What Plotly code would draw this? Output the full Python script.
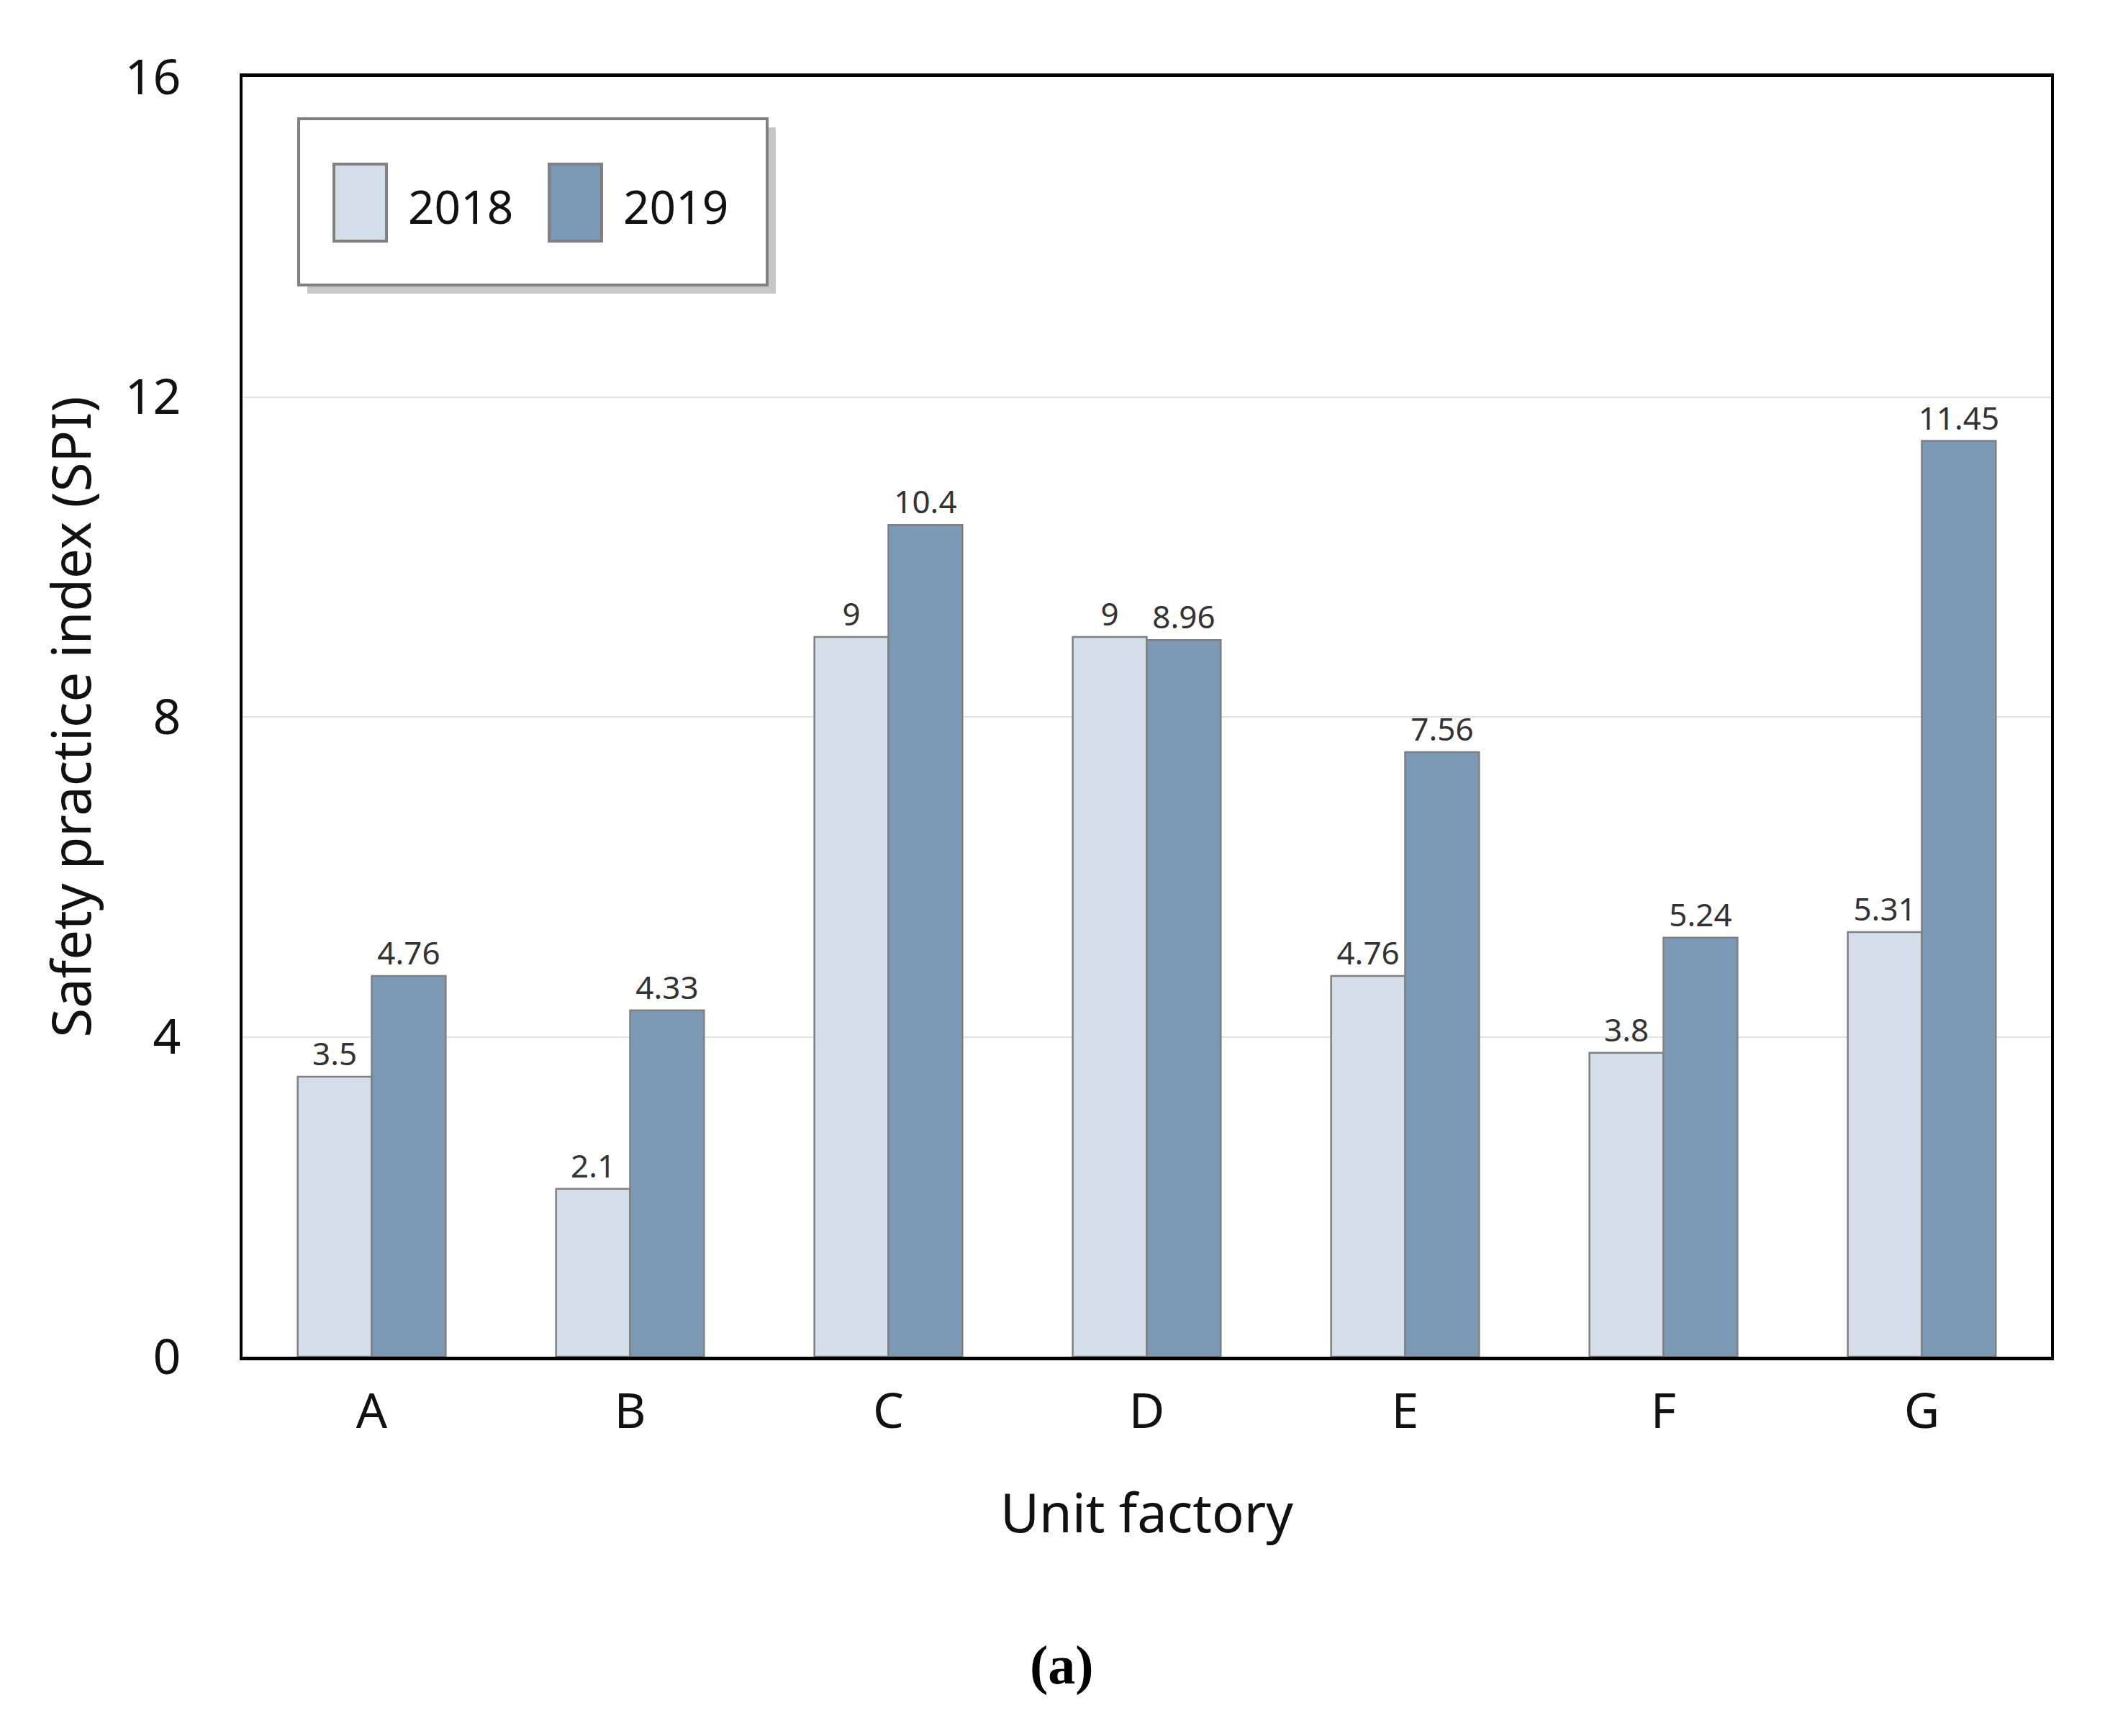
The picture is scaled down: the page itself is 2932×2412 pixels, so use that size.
import plotly.graph_objects as go

categories = ["A", "B", "C", "D", "E", "F", "G"]
spi_2018 = [3.5, 2.1, 9, 9, 4.76, 3.8, 5.31]
spi_2019 = [4.76, 4.33, 10.4, 8.96, 7.56, 5.24, 11.45]
label_2018 = ["3.5", "2.1", "9", "9", "4.76", "3.8", "5.31"]
label_2019 = ["4.76", "4.33", "10.4", "8.96", "7.56", "5.24", "11.45"]
series_names = ["2018", "2019"]
series_colors = ["#D4DEE8", "#7B98B4"]
y_ticks = [0, 4, 8, 12, 16]

W, H = 2916, 2396
L, R, T, B = 329, 2842, 99, 1877
FONT = "Noto Sans"

def px(x):
    return (x - L) / (R - L)

def py(y):
    return (B - y) / (B - T)

# reference-pixel helpers (reference coordinates are offset by the 8px page margin)
def rx(x):
    return px(x - 8)

def ry(y):
    return py(y - 8)

fig = go.Figure()
for name, vals, labels, color in zip(series_names, [spi_2018, spi_2019],
                                     [label_2018, label_2019], series_colors):
    fig.add_trace(go.Bar(
        x=categories, y=vals, name=name, text=labels,
        textposition="outside", constraintext="none", cliponaxis=False,
        textfont=dict(family=FONT, size=44, color="#333333"),
        marker=dict(color=color, line=dict(color="#808080", width=2.5)),
        showlegend=False,
    ))

shapes = []
annotations = []
# legend shadow + box
shapes.append(dict(type="rect", xref="paper", yref="paper",
                   x0=rx(427), x1=rx(1078), y0=ry(408), y1=ry(177),
                   fillcolor="rgba(0,0,0,0.22)", line=dict(width=0), layer="above"))
shapes.append(dict(type="rect", xref="paper", yref="paper",
                   x0=rx(415), x1=rx(1066), y0=ry(396), y1=ry(165),
                   fillcolor="white", line=dict(color="#808080", width=4), layer="above"))
sw_x = [464, 763]
txt_x = [640, 939]
for i, name in enumerate(series_names):
    shapes.append(dict(type="rect", xref="paper", yref="paper",
                       x0=rx(sw_x[i]), x1=rx(sw_x[i] + 73), y0=ry(335), y1=ry(228),
                       fillcolor=series_colors[i], line=dict(color="#808080", width=4),
                       layer="above"))
    annotations.append(dict(xref="paper", yref="paper", x=rx(txt_x[i]), y=ry(286),
                            text=name, showarrow=False, xanchor="center", yanchor="middle",
                            font=dict(family=FONT, size=64, color="#111111")))

annotations.append(dict(xref="paper", yref="paper", x=rx(1475), y=ry(2313),
                        text="<b>(a)</b>", showarrow=False, xanchor="center", yanchor="middle",
                        font=dict(family="Liberation Serif", size=76, color="black")))

fig.update_layout(
    width=W, height=H,
    margin=dict(l=L, r=W - R, t=T, b=H - B),
    paper_bgcolor="white", plot_bgcolor="white",
    barmode="group", bargap=0.427, bargroupgap=0,
    font=dict(family=FONT, color="#111111"),
    shapes=shapes, annotations=annotations,
    xaxis=dict(
        range=[-0.5, 6.5], showgrid=False, showline=True, linecolor="black",
        linewidth=5, mirror=True, ticks="", ticklabelstandoff=12,
        tickfont=dict(family=FONT, size=68, color="#111111"),
        title=dict(text="Unit factory", font=dict(family=FONT, size=74, color="#111111"),
                   standoff=76),
    ),
    yaxis=dict(
        range=[0, 16], tickvals=y_ticks, showgrid=True, gridcolor="#E2E2E2",
        gridwidth=2, showline=True, linecolor="black", linewidth=4, mirror=True,
        ticks="", zeroline=False, ticklabelstandoff=68,
        tickfont=dict(family=FONT, size=68, color="#111111"),
        title=dict(text="Safety practice index (SPI)",
                   font=dict(family=FONT, size=74, color="#111111"), standoff=24),
    ),
)

fig.write_html("out.html")
